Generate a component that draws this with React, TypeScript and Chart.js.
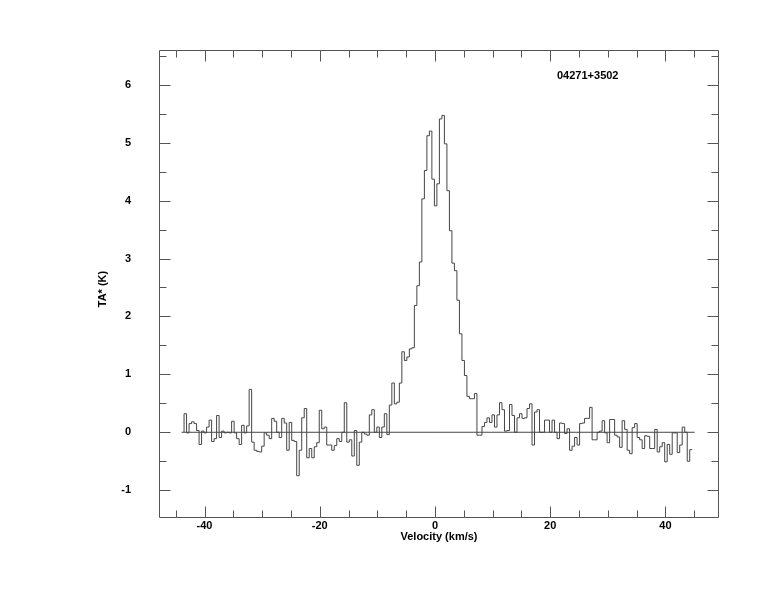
import React, { useEffect, useRef } from "react";
import { Chart, registerables } from "chart.js";

Chart.register(...registerables);

// ---- text ----
const SOURCE_NAME = "04271+3502";
const X_TITLE = "Velocity (km/s)";
const Y_TITLE = "TA* (K)";

// ---- axes ----
const X_MIN = -47.9;
const X_MAX = 49.3;
const Y_MIN = -1.48;
const Y_MAX = 6.6;
const X_TICKS = [-40, -20, 0, 20, 40];
const Y_TICKS = [-1, 0, 1, 2, 3, 4, 5, 6];
const X_MINOR_STEP = 5;
const Y_MINOR_STEP = 0.5;

// ---- spectrum: channel grid (km/s) ----
const V_START = -43.55; // left edge of the first channel
const CHANNEL_WIDTH = 0.4345;

// antenna temperature per channel (K)
const TA = [
  0.32, -0.01, 0.15, 0.18, 0.15, 0.03, -0.21, 0.02, -0.01, 0.09,
  0.21, -0.16, -0.11, 0.29, -0.09, 0.02, -0.01, 0.0, -0.01, 0.19,
  -0.01, -0.11, -0.21, 0.12, -0.01, 0.11, 0.74, -0.17, -0.31, -0.33,
  -0.34, -0.24, -0.01, -0.05, -0.11, 0.24, 0.19, 0.0, -0.09, 0.24,
  0.16, -0.31, 0.17, -0.14, -0.16, -0.75, -0.31, 0.25, 0.41, -0.44,
  -0.28, -0.44, -0.25, -0.18, 0.38, 0.06, 0.09, -0.22, -0.22, -0.31,
  -0.23, -0.11, -0.16, 0.0, 0.51, -0.17, -0.13, -0.41, 0.03, -0.57,
  -0.17, 0.0, -0.03, -0.05, 0.3, 0.39, 0.0, 0.09, -0.09, 0.09,
  0.32, -0.04, 0.47, 0.85, 0.49, 0.52, 0.85, 1.39, 1.24, 1.3,
  1.44, 1.46, 2.19, 2.53, 2.94, 4.03, 4.52, 5.12, 5.2, 4.37,
  3.91, 4.29, 5.41, 5.47, 4.98, 4.17, 3.48, 2.92, 2.79, 2.28,
  1.7, 1.24, 0.98, 0.62, 0.58, 0.58, 0.67, -0.05, -0.05, 0.1,
  0.17, 0.25, 0.17, 0.3, 0.09, 0.3, 0.51, 0.39, 0.02, 0.03,
  0.48, 0.29, 0.0, 0.25, 0.32, 0.24, 0.25, 0.41, 0.49, -0.22,
  0.35, 0.39, 0.0, 0.0, 0.21, 0.21, 0.0, 0.21, 0.0, -0.11,
  0.16, 0.15, -0.02, 0.06, -0.31, -0.24, -0.09, -0.22, 0.15, 0.16,
  0.24, 0.24, 0.43, -0.13, -0.13, 0.0, 0.02, 0.2, -0.01, -0.18,
  0.22, 0.22, -0.05, -0.08, -0.26, 0.2, 0.05, -0.31, -0.37, 0.08,
  0.15, -0.09, -0.13, -0.28, -0.06, -0.07, -0.28, -0.28, 0.05, -0.34,
  -0.25, -0.18, -0.51, -0.21, -0.38, -0.01, -0.01, -0.35, -0.22, 0.09,
  0.0, -0.5, -0.3,
];

const LINE_COLOR = "#454545";
const FRAME_COLOR = "#555555";
const FONT_FAMILY = "'Liberation Sans', Arial, Helvetica, sans-serif";
const MAJOR_LEN = 11;
const MINOR_LEN = 7;

const inwardTicks = {
  id: "inwardTicks",
  afterDraw(chart: any) {
    const { ctx, chartArea: a, scales } = chart;
    const xs = scales.x;
    const ys = scales.y;
    ctx.save();
    ctx.strokeStyle = FRAME_COLOR;
    ctx.lineWidth = 1;
    ctx.beginPath();
    const L = Math.round(a.left) + 0.5;
    const R = Math.round(a.right) - 0.5;
    const T = Math.round(a.top) + 0.5;
    const B = Math.round(a.bottom) - 0.5;
    ctx.rect(L, T, R - L, B - T);
    for (let k = Math.ceil(X_MIN / X_MINOR_STEP); k * X_MINOR_STEP <= X_MAX; k++) {
      const v = k * X_MINOR_STEP;
      const len = X_TICKS.includes(v) ? MAJOR_LEN : MINOR_LEN;
      const px = Math.round(xs.getPixelForValue(v)) + 0.5;
      ctx.moveTo(px, B);
      ctx.lineTo(px, B - len);
      ctx.moveTo(px, T);
      ctx.lineTo(px, T + len);
    }
    for (let k = Math.ceil(Y_MIN / Y_MINOR_STEP); k * Y_MINOR_STEP <= Y_MAX; k++) {
      const v = k * Y_MINOR_STEP;
      const len = Y_TICKS.includes(v) ? MAJOR_LEN : MINOR_LEN;
      const py = Math.round(ys.getPixelForValue(v)) + 0.5;
      ctx.moveTo(L, py);
      ctx.lineTo(L + len, py);
      ctx.moveTo(R, py);
      ctx.lineTo(R - len, py);
    }
    ctx.stroke();
    ctx.fillStyle = "#000";
    ctx.font = `bold 11px ${FONT_FAMILY}`;
    ctx.textAlign = "left";
    ctx.textBaseline = "middle";
    ctx.fillText(SOURCE_NAME, a.left + 398, a.top + 26);
    // y-axis title
    ctx.save();
    ctx.translate(a.left - 56, (a.top + a.bottom) / 2 + 5);
    ctx.rotate(-Math.PI / 2);
    ctx.textAlign = "center";
    ctx.fillText(Y_TITLE, 0, 0);
    ctx.restore();
    ctx.restore();
  },
};

export default function App() {
  const ref = useRef<HTMLCanvasElement | null>(null);

  useEffect(() => {
    if (!ref.current) return;
    const edges = TA.map((_, i) => V_START + i * CHANNEL_WIDTH);
    const vEnd = V_START + TA.length * CHANNEL_WIDTH;
    const spectrum = [
      { x: V_START, y: 0 },
      ...TA.map((y, i) => ({ x: edges[i], y })),
      { x: vEnd, y: TA[TA.length - 1] },
    ];
    const baseline = [
      { x: V_START - CHANNEL_WIDTH, y: 0 },
      { x: vEnd + CHANNEL_WIDTH, y: 0 },
    ];
    const tickFont = { family: FONT_FAMILY, size: 11, weight: "bold" as const };

    const chart = new Chart(ref.current, {
      type: "line",
      data: {
        datasets: [
          {
            data: baseline,
            borderColor: LINE_COLOR,
            borderWidth: 1,
            pointRadius: 0,
            fill: false,
          },
          {
            data: spectrum,
            stepped: true,
            borderColor: LINE_COLOR,
            borderWidth: 1,
            pointRadius: 0,
            fill: false,
          },
        ],
      },
      options: {
        animation: false,
        responsive: false,
        devicePixelRatio: 1,
        layout: { padding: { left: 0, top: 50, right: 55, bottom: 0 } },
        plugins: {
          legend: { display: false },
          tooltip: { enabled: false },
          title: { display: false },
        },
        scales: {
          x: {
            type: "linear",
            min: X_MIN,
            max: X_MAX,
            offset: false,
            grid: { display: false, drawTicks: false },
            border: { display: false },
            afterBuildTicks: (s: any) => {
              s.ticks = X_TICKS.map((value) => ({ value }));
            },
            afterFit: (s: any) => {
              s.height = 94;
            },
            ticks: {
              padding: 1,
              color: "#000",
              font: tickFont,
              maxRotation: 0,
              autoSkip: false,
              callback: (v: any) => String(v),
            },
            title: {
              display: true,
              text: X_TITLE,
              color: "#000",
              font: tickFont,
              padding: { top: 0, bottom: 68 },
            },
          },
          y: {
            type: "linear",
            min: Y_MIN,
            max: Y_MAX,
            grid: { display: false, drawTicks: false },
            border: { display: false },
            afterBuildTicks: (s: any) => {
              s.ticks = Y_TICKS.map((value) => ({ value }));
            },
            afterFit: (s: any) => {
              s.width = 159;
            },
            ticks: {
              padding: 28,
              color: "#000",
              font: tickFont,
              autoSkip: false,
              callback: (v: any) => String(v),
            },
            title: { display: false },
          },
        },
      },
      plugins: [inwardTicks],
    });
    return () => chart.destroy();
  }, []);

  return (
    <div
      style={{
        position: "fixed",
        left: 0,
        top: 0,
        width: 774,
        height: 612,
        background: "#fff",
      }}
    >
      <canvas ref={ref} width={774} height={612} style={{ display: "block" }} />
    </div>
  );
}
